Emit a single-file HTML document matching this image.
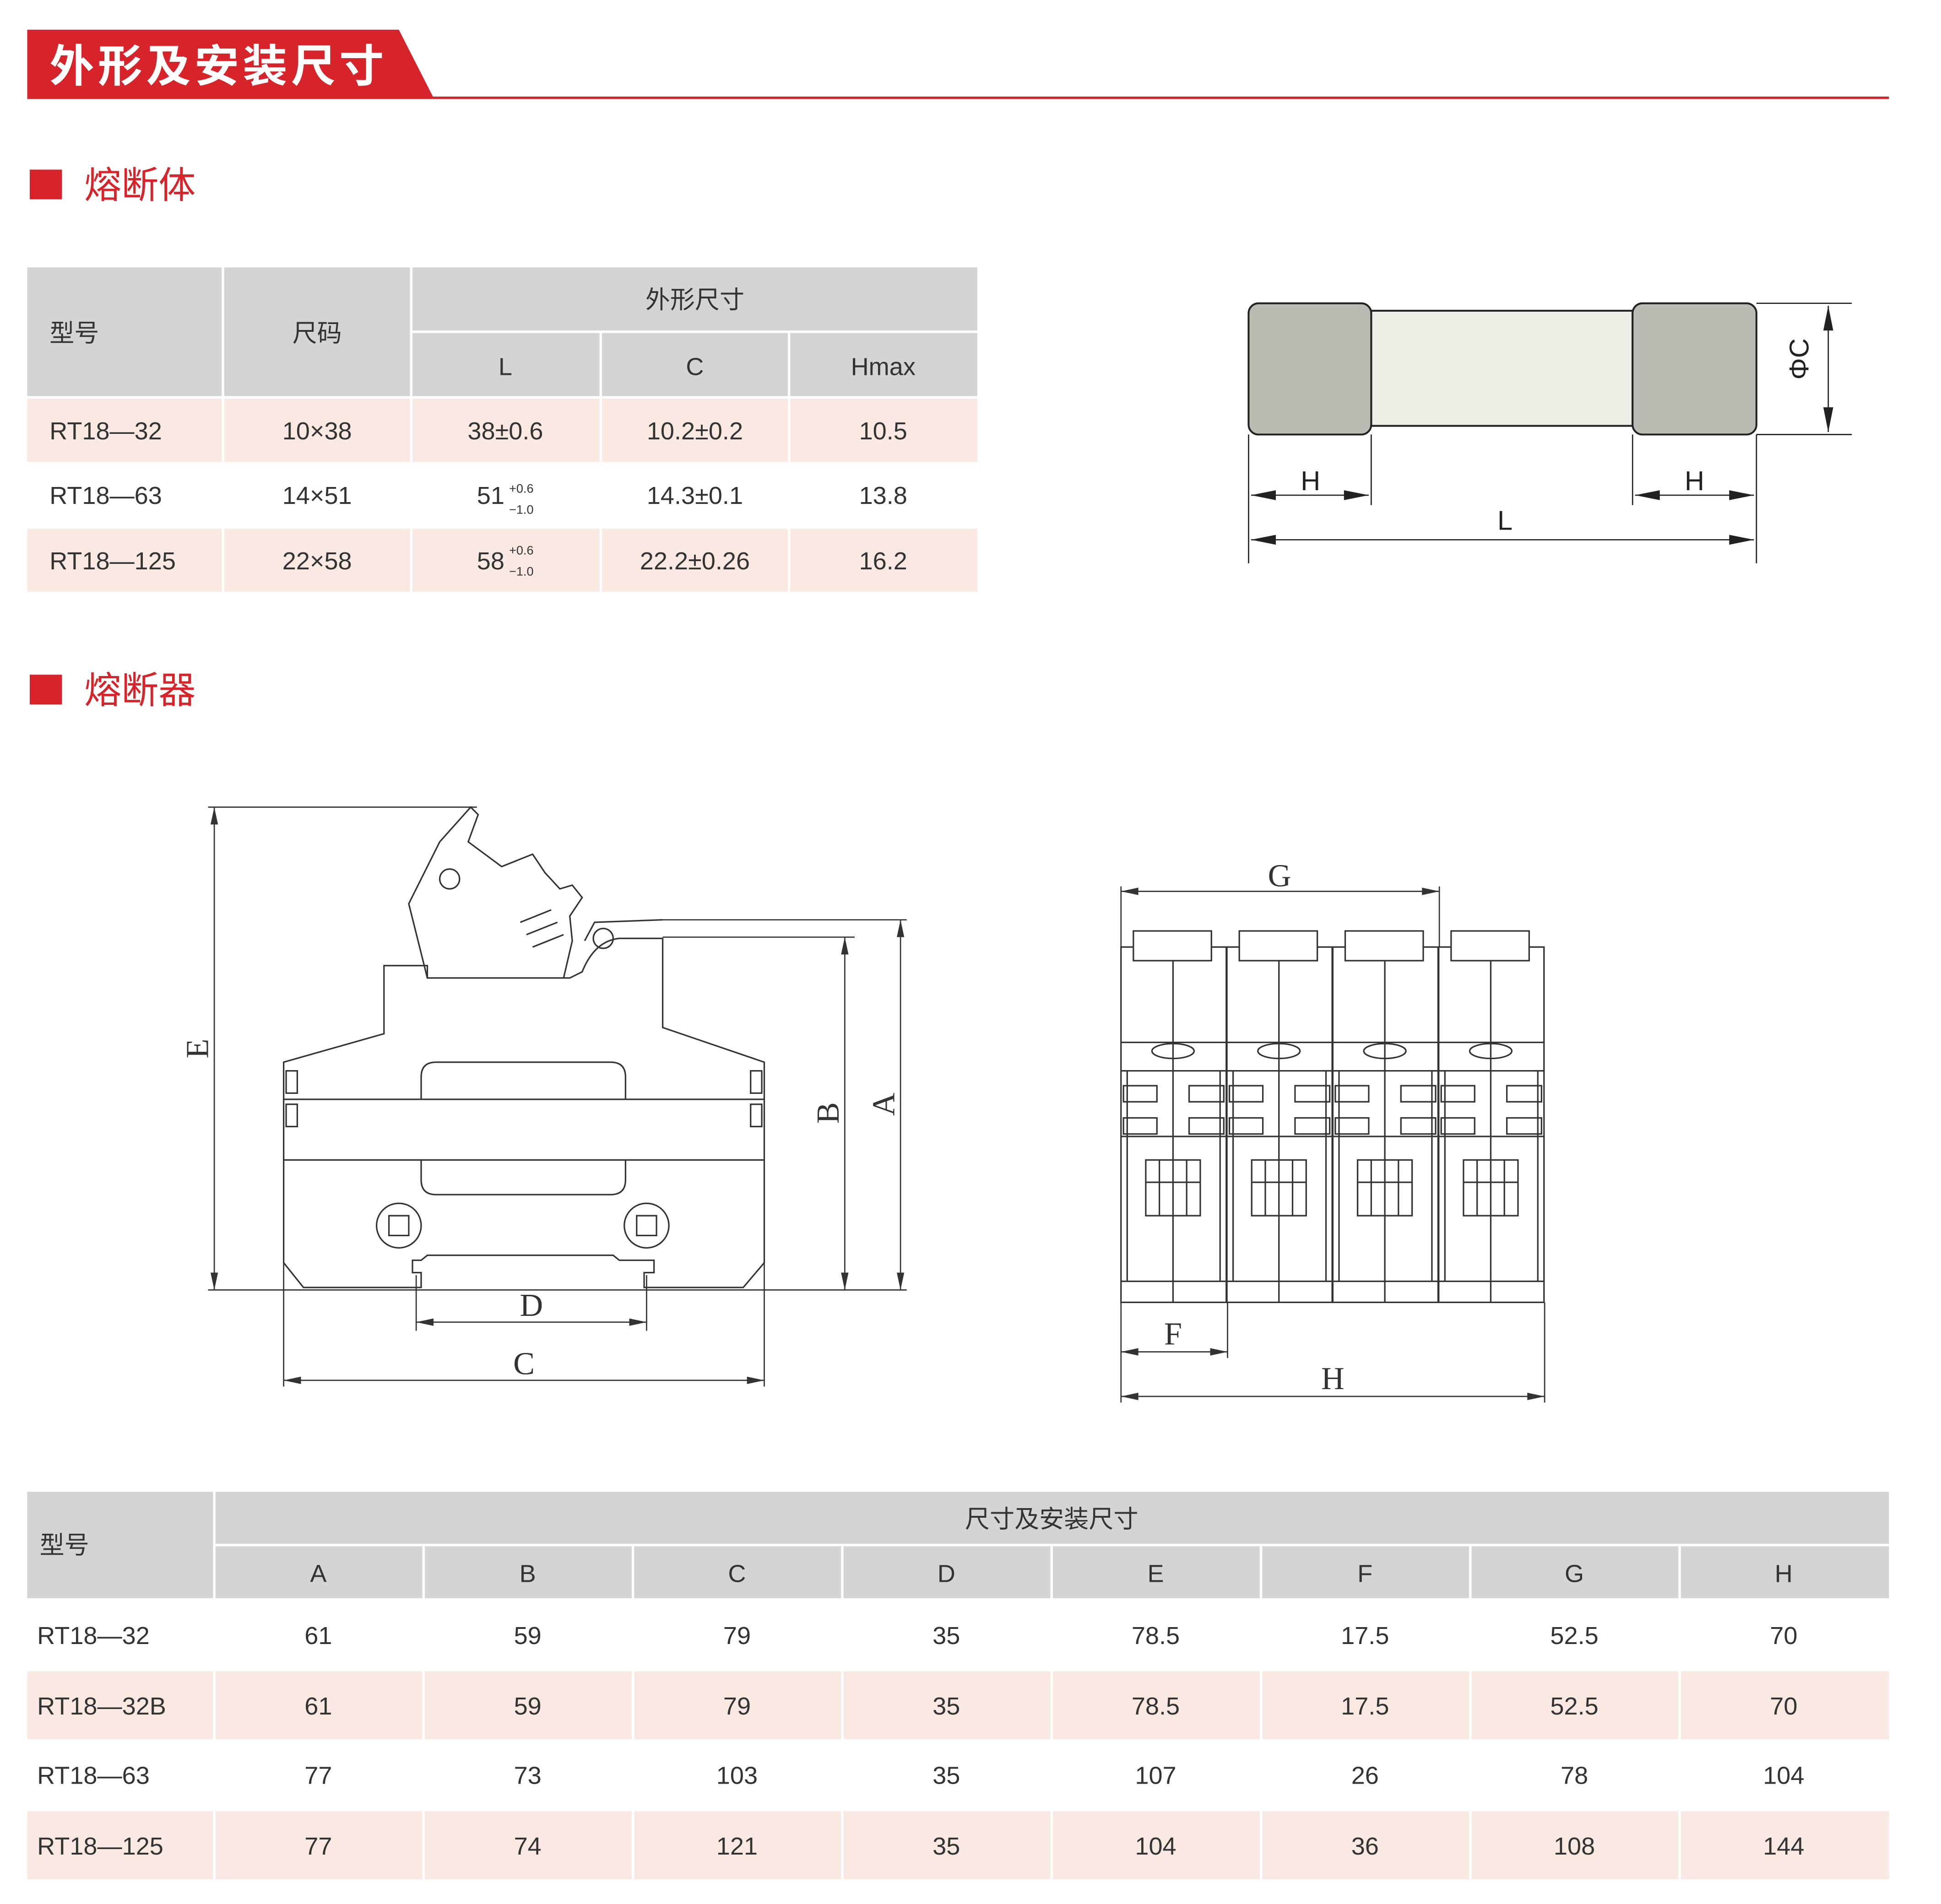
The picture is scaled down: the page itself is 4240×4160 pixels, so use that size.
<!DOCTYPE html>
<html><head><meta charset="utf-8"><style>
html,body{margin:0;padding:0;background:#fff;}
svg{display:block;}
text{font-family:"Liberation Sans","Noto Sans CJK SC",sans-serif;}
</style></head><body>
<svg width="4240" height="4160" viewBox="0 0 1567 1538" preserveAspectRatio="none" xmlns="http://www.w3.org/2000/svg">
<rect width="1567" height="1538" fill="#fff"/>
<!-- header -->
<polygon points="22,24 322,24 350,79 22,79" fill="#d7242b"/>
<line x1="22" y1="79" x2="1525" y2="79" stroke="#d7242b" stroke-width="2"/>
<text x="40" y="66" font-size="36" fill="#fff" font-weight="bold" letter-spacing="3">外形及安装尺寸</text>
<rect x="24" y="137" width="26" height="24" fill="#d7242b"/>
<text x="68" y="160" font-size="30" fill="#d7242b">熔断体</text>
<rect x="24" y="545" width="26" height="24" fill="#d7242b"/>
<text x="68" y="568" font-size="30" fill="#d7242b">熔断器</text>

<!-- table 1 -->
<g font-size="20" fill="#333">
<rect x="22" y="216" width="157" height="104" fill="#d3d4d6"/>
<rect x="181" y="216" width="150" height="104" fill="#d3d4d6"/>
<rect x="333" y="216" width="456" height="51" fill="#d3d4d6"/>
<rect x="333" y="269" width="151" height="51" fill="#d3d4d6"/>
<rect x="486" y="269" width="150" height="51" fill="#d3d4d6"/>
<rect x="638" y="269" width="151" height="51" fill="#d3d4d6"/>
<g fill="#f9e9e2">
<rect x="22" y="322" width="157" height="51"/><rect x="181" y="322" width="150" height="51"/><rect x="333" y="322" width="151" height="51"/><rect x="486" y="322" width="150" height="51"/><rect x="638" y="322" width="151" height="51"/>
<rect x="22" y="427" width="157" height="51"/><rect x="181" y="427" width="150" height="51"/><rect x="333" y="427" width="151" height="51"/><rect x="486" y="427" width="150" height="51"/><rect x="638" y="427" width="151" height="51"/>
</g>
<text x="40" y="276">型号</text>
<text x="256" y="276" text-anchor="middle">尺码</text>
<text x="561" y="249" text-anchor="middle">外形尺寸</text>
<text x="408" y="303" text-anchor="middle">L</text>
<text x="561" y="303" text-anchor="middle">C</text>
<text x="713" y="303" text-anchor="middle">Hmax</text>
<text x="40" y="355">RT18—32</text><text x="256" y="355" text-anchor="middle">10×38</text><text x="408" y="355" text-anchor="middle">38±0.6</text><text x="561" y="355" text-anchor="middle">10.2±0.2</text><text x="713" y="355" text-anchor="middle">10.5</text>
<text x="40" y="407">RT18—63</text><text x="256" y="407" text-anchor="middle">14×51</text><text x="385" y="407">51</text><text x="411" y="398" font-size="10">+0.6</text><text x="411" y="415" font-size="10">−1.0</text><text x="561" y="407" text-anchor="middle">14.3±0.1</text><text x="713" y="407" text-anchor="middle">13.8</text>
<text x="40" y="460">RT18—125</text><text x="256" y="460" text-anchor="middle">22×58</text><text x="385" y="460">58</text><text x="411" y="448" font-size="10">+0.6</text><text x="411" y="465" font-size="10">−1.0</text><text x="561" y="460" text-anchor="middle">22.2±0.26</text><text x="713" y="460" text-anchor="middle">16.2</text>
</g>

<!-- fuse -->
<g stroke="#222" stroke-width="1.5">
<rect x="1107" y="251" width="211" height="93" fill="#eeeee6"/>
<rect x="1008" y="245" width="99" height="106" rx="8" fill="#bcbbb3"/>
<rect x="1318" y="245" width="100" height="106" rx="8" fill="#bcbbb3"/>
<g stroke-width="1">
<line x1="1008" y1="351" x2="1008" y2="455"/><line x1="1107" y1="351" x2="1107" y2="408"/>
<line x1="1318" y1="351" x2="1318" y2="408"/><line x1="1418" y1="351" x2="1418" y2="455"/>
<line x1="1010" y1="400" x2="1105" y2="400"/><line x1="1320" y1="400" x2="1416" y2="400"/>
<line x1="1010" y1="436" x2="1416" y2="436"/>
<line x1="1418" y1="245" x2="1495" y2="245"/><line x1="1418" y1="351" x2="1495" y2="351"/>
<line x1="1476" y1="247" x2="1476" y2="349"/>
</g>
</g>
<g fill="#222">
<polygon points="1010,400 1030,396 1030,404"/><polygon points="1105,400 1085,396 1085,404"/>
<polygon points="1320,400 1340,396 1340,404"/><polygon points="1416,400 1396,396 1396,404"/>
<polygon points="1010,436 1030,432 1030,440"/><polygon points="1416,436 1396,432 1396,440"/>
<polygon points="1476,247 1472,267 1480,267"/><polygon points="1476,349 1472,329 1480,329"/>
</g>
<g font-size="22" fill="#222">
<text x="1058" y="396" text-anchor="middle">H</text><text x="1368" y="396" text-anchor="middle">H</text>
<text x="1215" y="428" text-anchor="middle">L</text>
<text x="1468" y="298" text-anchor="middle" transform="rotate(-90 1460 298)">ΦC</text>
</g>

<!-- left fuse holder drawing -->
<g fill="none" stroke="#333" stroke-width="1.2">
<path d="M229,858 L310,835 L310,780 L345,780 L345,790 L460,790 L470,785 Q480,760 500,758 L535,758 L535,830 L617,858 L617,1020 L600,1040 L520,1040 L520,1028 L528,1028 L528,1018 L500,1018 L495,1014 L345,1014 L340,1018 L333,1018 L333,1028 L340,1028 L340,1040 L245,1040 L229,1020 Z"/>
<path d="M345,790 L330,730 L355,680 L380,652 L386,658 L378,680 L405,700 L430,690 L440,705 L452,718 L462,715 L470,725 L460,740 L462,760 L455,790"/>
<circle cx="363" cy="710" r="8"/>
<path d="M420,745 L445,735 M425,755 L450,745 M430,765 L455,755"/>
<path d="M472,760 L480,745 L535,743"/>
<circle cx="487" cy="758" r="8"/>
<line x1="229" y1="888" x2="617" y2="888"/><line x1="229" y1="937" x2="617" y2="937"/>
<path d="M340,888 L340,870 Q340,858 352,858 L493,858 Q505,858 505,870 L505,888"/>
<path d="M340,937 L340,953 Q340,965 352,965 L493,965 Q505,965 505,953 L505,937"/>
<rect x="231" y="865" width="9" height="18"/><rect x="231" y="892" width="9" height="18"/>
<rect x="606" y="865" width="9" height="18"/><rect x="606" y="892" width="9" height="18"/>
<circle cx="322" cy="990" r="18"/><rect x="314" y="982" width="16" height="16"/>
<circle cx="522" cy="990" r="18"/><rect x="514" y="982" width="16" height="16"/>
<g stroke-width="1">
<line x1="173" y1="652" x2="173" y2="1042"/><line x1="168" y1="652" x2="385" y2="652"/>
<line x1="168" y1="1042" x2="732" y2="1042"/>
<line x1="682" y1="757" x2="682" y2="1042"/><line x1="535" y1="757" x2="690" y2="757"/>
<line x1="727" y1="743" x2="727" y2="1042"/><line x1="535" y1="743" x2="732" y2="743"/>
<line x1="336" y1="1030" x2="336" y2="1075"/><line x1="522" y1="1030" x2="522" y2="1075"/>
<line x1="336" y1="1068" x2="522" y2="1068"/>
<line x1="229" y1="1020" x2="229" y2="1120"/><line x1="617" y1="1020" x2="617" y2="1120"/>
<line x1="229" y1="1115" x2="617" y2="1115"/>
</g>
</g>
<g fill="#333">
<polygon points="173,652 170,666 176,666"/><polygon points="173,1042 170,1028 176,1028"/>
<polygon points="682,757 679,771 685,771"/><polygon points="682,1042 679,1028 685,1028"/>
<polygon points="727,743 724,757 730,757"/><polygon points="727,1042 724,1028 730,1028"/>
<polygon points="336,1068 350,1065 350,1071"/><polygon points="522,1068 508,1065 508,1071"/>
<polygon points="229,1115 243,1112 243,1118"/><polygon points="617,1115 603,1112 603,1118"/>
</g>
<g font-size="26" fill="#333">
<text x="429" y="1063" text-anchor="middle" style="font-family:'Liberation Serif',serif">D</text>
<text x="423" y="1110" text-anchor="middle" style="font-family:'Liberation Serif',serif">C</text>
<text transform="translate(168,847) rotate(-90)" text-anchor="middle" style="font-family:'Liberation Serif',serif">E</text>
<text transform="translate(677,899) rotate(-90)" text-anchor="middle" style="font-family:'Liberation Serif',serif">B</text>
<text transform="translate(722,892) rotate(-90)" text-anchor="middle" style="font-family:'Liberation Serif',serif">A</text>
<text x="1033" y="716" text-anchor="middle" style="font-family:'Liberation Serif',serif">G</text>
<text x="947" y="1086" text-anchor="middle" style="font-family:'Liberation Serif',serif">F</text>
<text x="1076" y="1122" text-anchor="middle" style="font-family:'Liberation Serif',serif">H</text>
</g>

<!-- right modular drawing -->
<g fill="none" stroke="#333" stroke-width="1.2">
<g id="m">
<rect x="905" y="765" width="85" height="287"/>
<rect x="915" y="752" width="63" height="24" fill="#fff"/>
<line x1="947" y1="776" x2="947" y2="1052"/>
<line x1="905" y1="842" x2="990" y2="842"/><line x1="905" y1="865" x2="990" y2="865"/>
<line x1="905" y1="918" x2="990" y2="918"/><line x1="905" y1="1035" x2="990" y2="1035"/>
<ellipse cx="947" cy="849" rx="17" ry="6"/>
<rect x="907" y="877" width="27" height="13"/><rect x="960" y="877" width="28" height="13"/>
<rect x="907" y="903" width="27" height="13"/><rect x="960" y="903" width="28" height="13"/>
<rect x="925" y="937" width="44" height="45"/>
<line x1="925" y1="955" x2="969" y2="955"/><line x1="936" y1="937" x2="936" y2="982"/><line x1="958" y1="937" x2="958" y2="982"/>
<line x1="910" y1="865" x2="910" y2="1035"/><line x1="985" y1="865" x2="985" y2="1035"/>
</g>
<use href="#m" x="85.5"/><use href="#m" x="171"/><use href="#m" x="256.5"/>
<g stroke-width="1">
<line x1="905" y1="716" x2="905" y2="765"/><line x1="1162" y1="716" x2="1162" y2="765"/>
<line x1="905" y1="720" x2="1162" y2="720"/>
<line x1="905" y1="1052" x2="905" y2="1133"/><line x1="991" y1="1052" x2="991" y2="1097"/><line x1="1247" y1="1052" x2="1247" y2="1133"/>
<line x1="905" y1="1092" x2="991" y2="1092"/><line x1="905" y1="1128" x2="1247" y2="1128"/>
</g>
</g>
<g fill="#333">
<polygon points="905,720 919,717 919,723"/><polygon points="1162,720 1148,717 1148,723"/>
<polygon points="905,1092 919,1089 919,1095"/><polygon points="991,1092 977,1089 977,1095"/>
<polygon points="905,1128 919,1125 919,1131"/><polygon points="1247,1128 1233,1125 1233,1131"/>
</g>

<!-- table 2 -->
<g font-size="20" fill="#333">
<rect x="22" y="1205" width="150" height="86" fill="#d3d4d6"/>
<rect x="174" y="1205" width="1351" height="42" fill="#d3d4d6"/>
<g fill="#d3d4d6">
<rect x="174" y="1249" width="167" height="42"/><rect x="343" y="1249" width="167" height="42"/><rect x="512" y="1249" width="167" height="42"/><rect x="681" y="1249" width="167" height="42"/><rect x="850" y="1249" width="167" height="42"/><rect x="1019" y="1249" width="167" height="42"/><rect x="1188" y="1249" width="167" height="42"/><rect x="1357" y="1249" width="168" height="42"/>
</g>
<g fill="#f9e9e2">
<rect x="22" y="1350" width="150" height="55"/><rect x="174" y="1350" width="1351" height="55"/>
<rect x="22" y="1463" width="150" height="55"/><rect x="174" y="1463" width="1351" height="55"/>
</g>
<g stroke="#fff" stroke-width="2">
<line x1="342" y1="1350" x2="342" y2="1405"/><line x1="511" y1="1350" x2="511" y2="1405"/><line x1="680" y1="1350" x2="680" y2="1405"/><line x1="849" y1="1350" x2="849" y2="1405"/><line x1="1018" y1="1350" x2="1018" y2="1405"/><line x1="1187" y1="1350" x2="1187" y2="1405"/><line x1="1356" y1="1350" x2="1356" y2="1405"/>
<line x1="342" y1="1463" x2="342" y2="1518"/><line x1="511" y1="1463" x2="511" y2="1518"/><line x1="680" y1="1463" x2="680" y2="1518"/><line x1="849" y1="1463" x2="849" y2="1518"/><line x1="1018" y1="1463" x2="1018" y2="1518"/><line x1="1187" y1="1463" x2="1187" y2="1518"/><line x1="1356" y1="1463" x2="1356" y2="1518"/>
</g>
<line x1="173" y1="1292" x2="173" y2="1518" stroke="#fff" stroke-width="2"/>
<text x="32" y="1255">型号</text>
<text x="849" y="1234" text-anchor="middle">尺寸及安装尺寸</text>
<g text-anchor="middle">
<text x="257" y="1278">A</text><text x="426" y="1278">B</text><text x="595" y="1278">C</text><text x="764" y="1278">D</text><text x="933" y="1278">E</text><text x="1102" y="1278">F</text><text x="1271" y="1278">G</text><text x="1440" y="1278">H</text>
<text x="257" y="1328">61</text><text x="426" y="1328">59</text><text x="595" y="1328">79</text><text x="764" y="1328">35</text><text x="933" y="1328">78.5</text><text x="1102" y="1328">17.5</text><text x="1271" y="1328">52.5</text><text x="1440" y="1328">70</text>
<text x="257" y="1385">61</text><text x="426" y="1385">59</text><text x="595" y="1385">79</text><text x="764" y="1385">35</text><text x="933" y="1385">78.5</text><text x="1102" y="1385">17.5</text><text x="1271" y="1385">52.5</text><text x="1440" y="1385">70</text>
<text x="257" y="1441">77</text><text x="426" y="1441">73</text><text x="595" y="1441">103</text><text x="764" y="1441">35</text><text x="933" y="1441">107</text><text x="1102" y="1441">26</text><text x="1271" y="1441">78</text><text x="1440" y="1441">104</text>
<text x="257" y="1498">77</text><text x="426" y="1498">74</text><text x="595" y="1498">121</text><text x="764" y="1498">35</text><text x="933" y="1498">104</text><text x="1102" y="1498">36</text><text x="1271" y="1498">108</text><text x="1440" y="1498">144</text>
</g>
<text x="30" y="1328">RT18—32</text><text x="30" y="1385">RT18—32B</text><text x="30" y="1441">RT18—63</text><text x="30" y="1498">RT18—125</text>
</g>
</svg>
</body></html>
